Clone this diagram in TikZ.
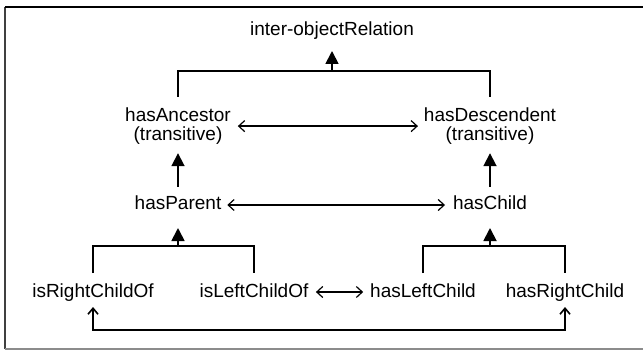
\documentclass[tikz,border=0pt]{standalone}
\usepackage{fontspec}
\setmainfont{Liberation Sans}
\usetikzlibrary{arrows.meta}
\begin{document}
\begin{tikzpicture}[x=1pt,y=-1pt,
  lbl/.style={inner sep=0pt,outer sep=0pt,font=\fontsize{19}{19}\selectfont,text height=14pt,text depth=4pt},
  lbltwo/.style={inner sep=0pt,outer sep=0pt,font=\fontsize{19}{18.5}\selectfont,align=center},
  barline/.style={line width=1.8pt},
  fatarrow/.style={line width=1.8pt,-{Triangle[length=13pt,width=13pt]}},
  dblarrow/.style={line width=1.2pt,{Straight Barb[length=6pt,width=11pt]}-{Straight Barb[length=6pt,width=11pt]}},
  looparrow/.style={line width=1.6pt,{Straight Barb[length=6pt,width=10pt]}-{Straight Barb[length=6pt,width=10pt]}}
]
\useasboundingbox (0,0) rectangle (643,350);
% frame
\draw[line width=1.5pt,black!75] (5,7) -- (5,349);
\draw[line width=1.2pt,black] (5,7) -- (643,7);
\draw[line width=1.5pt,black!45] (5,349) -- (643,349);

% nodes
\node[lbl,anchor=base] (ior) at (332,36) {inter-objectRelation};
\node[lbltwo,anchor=north] (anc) at (178,108) {hasAncestor\\(transitive)};
\node[lbltwo,anchor=north] (desc) at (490,108) {hasDescendent\\(transitive)};
\node[lbl,anchor=base] (hp) at (178,210) {hasParent};
\node[lbl,anchor=base] (hc) at (490,210) {hasChild};
\node[lbl,anchor=base] (irc) at (93,297) {isRightChildOf};
\node[lbl,anchor=base] (ilc) at (254,297) {isLeftChildOf};
\node[lbl,anchor=base] (hlc) at (423,297) {hasLeftChild};
\node[lbl,anchor=base] (hrc) at (565,297) {hasRightChild};

% junction points
\coordinate (tj) at (332,71);
\coordinate (lj) at (178,246);
\coordinate (rj) at (490,246);
\coordinate (bl) at (330,330);

% top level
\draw[barline,shorten <=11pt,shorten >=11pt] (anc.north) |- (tj) -| (desc.north);
\draw[fatarrow,shorten >=11pt] (tj) -- (ior.south);
\draw[dblarrow,shorten <=7pt,shorten >=6pt] (anc.east) -- (desc.west);

% middle level
\draw[fatarrow,shorten <=9pt,shorten >=9pt] (hp.north) -- (anc.south);
\draw[fatarrow,shorten <=9pt,shorten >=9pt] (hc.north) -- (desc.south);
\draw[dblarrow,shorten <=6pt,shorten >=8pt] (hp.east) -- (hc.west);

% bottom level
\draw[barline,shorten <=10pt,shorten >=10pt] (irc.north) |- (lj) -| (ilc.north);
\draw[fatarrow,shorten >=14pt] (lj) -- (hp.south);
\draw[barline,shorten <=10pt,shorten >=10pt] (hlc.north) |- (rj) -| (hrc.north);
\draw[fatarrow,shorten >=14pt] (rj) -- (hc.south);
\draw[dblarrow,shorten <=7.5pt,shorten >=7pt] (ilc.east) -- (hlc.west);
\draw[looparrow,shorten <=6pt,shorten >=6pt] (irc.south) |- (bl) -| (hrc.south);
\end{tikzpicture}
\end{document}
